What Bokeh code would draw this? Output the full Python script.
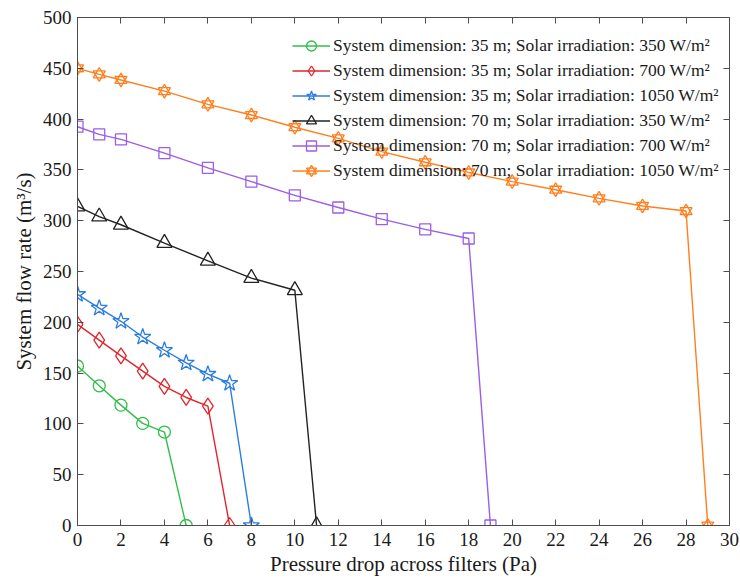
from bokeh.plotting import figure
from bokeh.models import (Range1d, LinearAxis, Legend, LegendItem,
                          CustomJSTickFormatter, FixedTicker)
from bokeh.embed import file_html
from bokeh.resources import INLINE

# ---- data ----
x_35_350 = [0, 1, 2, 3, 4, 5]
y_35_350 = [157, 137.5, 118.5, 100.5, 92, 0]

x_35_700 = [0, 1, 2, 3, 4, 5, 6, 7]
y_35_700 = [198, 182.5, 167, 152, 137, 126, 117.5, 0]

x_35_1050 = [0, 1, 2, 3, 4, 5, 6, 7, 8]
y_35_1050 = [227.5, 214, 201, 185.5, 172.5, 160, 149, 140, 0]

x_70_350 = [0, 1, 2, 4, 6, 8, 10, 11]
y_70_350 = [314, 304, 296, 278, 260.5, 243.5, 231.5, 0]

x_70_700 = [0, 1, 2, 4, 6, 8, 10, 12, 14, 16, 18, 19]
y_70_700 = [392.5, 385, 380, 366.5, 352, 338.5, 325, 313, 301.5, 291.5, 282.5, 0]

x_70_1050 = [0, 1, 2, 4, 6, 8, 10, 12, 14, 16, 18, 20, 22, 24, 26, 28, 29]
y_70_1050 = [450, 444, 438.5, 427.5, 414.5, 404, 392, 381, 368, 357.5, 347.5,
             338.5, 330.5, 322, 314.5, 309.5, 0]

labels = [
    "System dimension: 35 m; Solar irradiation: 350 W/m²",
    "System dimension: 35 m; Solar irradiation: 700 W/m²",
    "System dimension: 35 m; Solar irradiation: 1050 W/m²",
    "System dimension: 70 m; Solar irradiation: 350 W/m²",
    "System dimension: 70 m; Solar irradiation: 700 W/m²",
    "System dimension: 70 m; Solar irradiation: 1050 W/m²",
]
x_ticks = list(range(0, 31, 2))
y_ticks = list(range(0, 501, 50))

FONT = "Liberation Serif"
AXC = "#4d4d4d"

p = figure(frame_width=652, frame_height=508,
           min_border_left=77, min_border_right=11,
           min_border_top=17, min_border_bottom=56,
           x_range=Range1d(0, 30), y_range=Range1d(0, 500),
           output_backend="svg", toolbar_location=None,
           x_axis_label="Pressure drop across filters (Pa)",
           y_axis_label="System flow rate (m³/s)")
p.grid.visible = False
p.outline_line_color = AXC
p.outline_line_width = 1
p.background_fill_color = "white"
p.border_fill_color = "white"

for ax in (p.xaxis[0], p.yaxis[0]):
    ax.axis_line_color = AXC
    ax.major_tick_line_color = AXC
    ax.major_tick_in = 6
    ax.major_tick_out = 0
    ax.minor_tick_line_color = None
    ax.major_label_text_font = FONT
    ax.major_label_text_font_size = "19px"
    ax.major_label_text_color = "#1a1a1a"
    ax.axis_label_text_font = FONT
    ax.axis_label_text_font_size = "21px"
    ax.axis_label_text_font_style = "normal"
    ax.axis_label_text_color = "#1a1a1a"
p.xaxis[0].ticker = FixedTicker(ticks=x_ticks)
p.yaxis[0].ticker = FixedTicker(ticks=y_ticks)
p.xaxis[0].major_label_standoff = 7
p.yaxis[0].major_label_standoff = 6
p.xaxis[0].axis_label_standoff = 3
p.yaxis[0].axis_label_standoff = 4

blank = CustomJSTickFormatter(code="return ''")
top = LinearAxis(ticker=FixedTicker(ticks=x_ticks), formatter=blank)
right = LinearAxis(ticker=FixedTicker(ticks=y_ticks), formatter=blank)
for ax in (top, right):
    ax.axis_line_color = AXC
    ax.major_tick_line_color = AXC
    ax.major_tick_in = 6
    ax.major_tick_out = 0
    ax.minor_tick_line_color = None
    ax.major_label_standoff = 0
p.add_layout(top, "above")
p.add_layout(right, "right")

series = [
    (x_35_350, y_35_350, "#2fbf48", ["circle"], 12),
    (x_35_700, y_35_700, "#e0262b", ["diamond"], 16),
    (x_35_1050, y_35_1050, "#2b7de0", ["star"], 17),
    (x_70_350, y_70_350, "#222222", ["triangle"], 15),
    (x_70_700, y_70_700, "#9b5ee6", ["square"], 11),
    (x_70_1050, y_70_1050, "#ff7f1e", ["triangle", "inverted_triangle"], 12),
]

items = []
for (xs, ys, col, markers, sz), lab in zip(series, labels):
    rs = [p.line(xs, ys, line_color=col, line_width=1.4)]
    for m in markers:
        rs.append(p.scatter(xs, ys, marker=m, size=sz, line_color=col,
                            line_width=1.3, fill_color=None))
    items.append(LegendItem(label=lab, renderers=rs))

legend = Legend(items=items, location=(215, 342),
                background_fill_alpha=0, border_line_color=None,
                padding=5, spacing=0, margin=0,
                glyph_width=38, glyph_height=25, label_height=25,
                label_standoff=3,
                label_text_font=FONT, label_text_font_size="17.5px",
                label_text_color="#1a1a1a")
p.add_layout(legend, "center")

open("out.html", "w").write(file_html(p, INLINE))
